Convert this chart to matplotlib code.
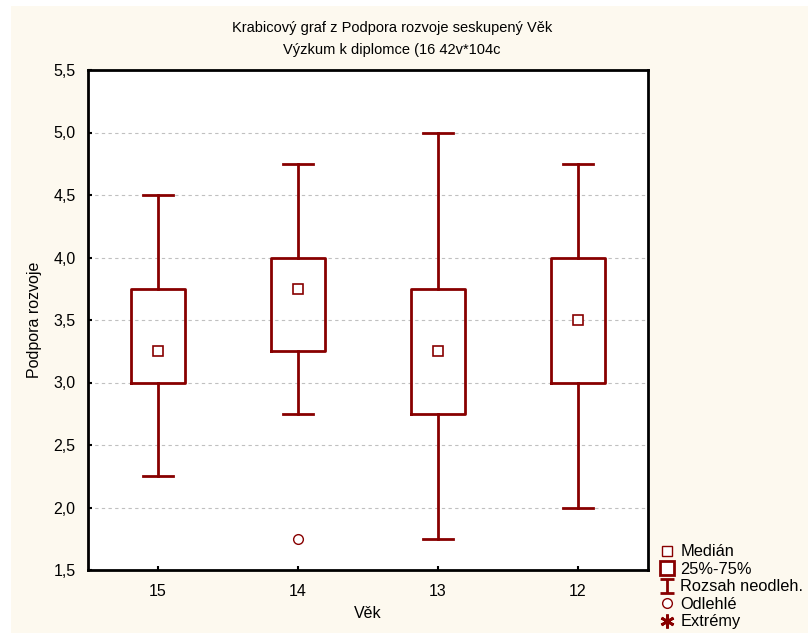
import matplotlib
matplotlib.use("Agg")
import matplotlib.pyplot as plt
from matplotlib.lines import Line2D
from matplotlib.path import Path
from matplotlib.patches import Rectangle
from matplotlib.ticker import FuncFormatter

plt.rcParams['font.family'] = ['Liberation Sans', 'DejaVu Sans']

groups = ["15", "14", "13", "12"]
whisk_lo = [2.25, 2.75, 1.75, 2.0]
q1 = [3.0, 3.25, 2.75, 3.0]
medians = [3.25, 3.75, 3.25, 3.5]
q3 = [3.75, 4.0, 3.75, 4.0]
whisk_hi = [4.5, 4.75, 5.0, 4.75]
outliers = [[], [1.75], [], []]

red = "#880000"

fig = plt.figure(figsize=(8.08, 6.33), dpi=100)
fig.patch.set_facecolor("white")
fig.patches.append(Rectangle((11 / 808, 0), 1, 1 - 6 / 633, transform=fig.transFigure,
                             facecolor="#FDF9EF", edgecolor="none", zorder=-10))
ax = fig.add_axes([88 / 808, 1 - 570 / 633, 560 / 808, 500 / 633])

stats = []
for i, g in enumerate(groups):
    stats.append(dict(label=g, whislo=whisk_lo[i], q1=q1[i], med=medians[i],
                      q3=q3[i], whishi=whisk_hi[i], fliers=outliers[i]))

pos = list(range(len(groups)))
ax.bxp(stats, positions=pos, widths=0.39, capwidths=0.21, showfliers=True,
       boxprops=dict(color=red, linewidth=2),
       whiskerprops=dict(color=red, linewidth=2),
       capprops=dict(color=red, linewidth=2),
       medianprops=dict(linewidth=0),
       flierprops=dict(marker='o', markerfacecolor='white', markeredgecolor=red,
                       markersize=7, markeredgewidth=1))
ax.plot(pos, medians, linestyle='none', marker='s', markersize=6.5,
        markerfacecolor='white', markeredgecolor=red, markeredgewidth=1.2, zorder=5)

ax.set_xlim(-0.5, 3.5)
ax.set_ylim(1.5, 5.5)
ax.set_yticks([1.5, 2.0, 2.5, 3.0, 3.5, 4.0, 4.5, 5.0, 5.5])
ax.yaxis.set_major_formatter(FuncFormatter(lambda v, p: f"{v:.1f}".replace(".", ",")))
ax.set_xticks(pos)
ax.set_xticklabels(groups)
ax.tick_params(direction='in', length=3, width=1.5, labelsize=11.5)
ax.tick_params(axis='x', pad=10)
ax.tick_params(axis='y', pad=9)
ax.yaxis.grid(True, linestyle=(0, (3, 3)), color="#c0c0c0", linewidth=0.8)
ax.set_axisbelow(True)
for s in ax.spines.values():
    s.set_linewidth(2)

ax.set_xlabel("Věk", fontsize=11.5, labelpad=5)
ax.set_ylabel("Podpora rozvoje", fontsize=11.5, labelpad=8)
fig.text(392 / 808, 1 - 28 / 633, "Krabicový graf z Podpora rozvoje seskupený Věk",
         ha='center', va='center', fontsize=10.5)
fig.text(392 / 808, 1 - 50 / 633, "Výzkum k diplomce (16 42v*104c",
         ha='center', va='center', fontsize=10.5)

ibeam = Path([(-1, -1), (1, -1), (0, -1), (0, 1), (-1, 1), (1, 1)],
             [Path.MOVETO, Path.LINETO, Path.MOVETO, Path.LINETO, Path.MOVETO, Path.LINETO])
handles = [
    Line2D([], [], linestyle='none', marker='s', markersize=7, markerfacecolor='white',
           markeredgecolor=red, markeredgewidth=1),
    Line2D([], [], linestyle='none', marker='s', markersize=10, markerfacecolor='white',
           markeredgecolor=red, markeredgewidth=2),
    Line2D([], [], linestyle='none', marker=ibeam, markersize=10, markeredgecolor=red,
           markeredgewidth=2),
    Line2D([], [], linestyle='none', marker='o', markersize=7, markerfacecolor='white',
           markeredgecolor=red, markeredgewidth=1),
    Line2D([], [], linestyle='none', marker=(6, 2, 0), markersize=10, markeredgecolor=red,
           markeredgewidth=2),
]
labels = ["Medián", "25%-75%", "Rozsah neodleh.", "Odlehlé", "Extrémy"]
fig.legend(handles, labels, loc='upper left', bbox_to_anchor=(659 / 808, 1 - 544.5 / 633),
           frameon=False, fontsize=11.8, handlelength=1, handletextpad=0.3,
           labelspacing=0.15, borderpad=0, borderaxespad=0)

fig.savefig("out.png", dpi=100, facecolor=fig.get_facecolor())
